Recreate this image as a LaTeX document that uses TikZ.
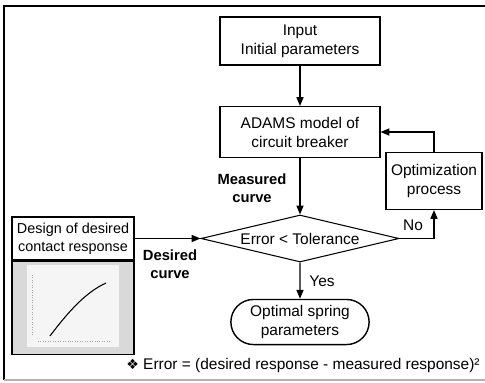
\documentclass[tikz,border=0pt]{standalone}
\usepackage{fontspec}
\setmainfont{Liberation Sans}
\newfontfamily\symfont{DejaVu Sans}
\usetikzlibrary{shapes,arrows.meta,positioning,calc}

\begin{document}
\begin{tikzpicture}[x=0.02cm, y=-0.02cm, font=\fontsize{8.8}{10.8}\selectfont,
  box/.style={draw, line width=0.6pt, fill=white, align=center, inner sep=1pt},
  flow/.style={-{Triangle[length=5pt,width=4pt]}, line width=0.7pt},
  tag/.style={font=\fontsize{8.4}{10.4}\selectfont\bfseries, align=center}]
  \useasboundingbox (0,0) rectangle (485,383);
  \draw[line width=0.7pt] (485,6) -- (4,6) -- (4,380);
  \draw[line width=0.6pt, gray!60] (4,380) -- (485,380);

  \node[box, minimum width=3.2cm, minimum height=0.96cm] (input) at (300,41) {Input\\Initial parameters};
  \node[box, minimum width=3.2cm, minimum height=1.02cm] (adams) at (300,132) {ADAMS model of\\circuit breaker};
  \node[box, minimum width=1.92cm, minimum height=1.14cm] (optim) at (434,181) {Optimization\\process};
  \node[draw, diamond, aspect=4.2, minimum width=3.96cm, minimum height=0.94cm, inner sep=0pt, fill=white, line width=0.6pt] (check) at (300,238.5) {Error < Tolerance};
  \node[draw, rounded rectangle, minimum width=3cm, minimum height=0.82cm, line width=0.8pt, align=center] (optimal) at (300,322) {Optimal spring\\parameters};
  \node[box, minimum width=2.44cm, minimum height=0.86cm, font=\fontsize{8.2}{10}\selectfont] (design) at (73,238.5) {Design of desired\\contact response};
  \node[draw, line width=0.8pt, fill=gray!30, minimum width=2.44cm, minimum height=1.86cm, anchor=north, inner sep=0pt] (plot) at (design.south) {};
  \fill[gray!8] (27,265) rectangle (119,347);
  \draw[densely dotted, gray!70] (38,341) -- (110,341);
  \draw[densely dotted, gray!70] (32,275) -- (32,336);
  \draw[line width=0.6pt] (50,336) .. controls (68,312) and (86,292) .. (106,283);

  \node[tag] (meas) at (252,188) {Measured\\curve};
  \node[tag] (des) at (170,264) {Desired\\curve};
  \node (no) at (413,225) {No};
  \node (yes) at (322,281) {Yes};
  \node (note) at (303,365) {{\symfont\fontsize{8}{8}\selectfont ❖} Error = (desired response - measured response)²};

  \draw[flow] (input) -- (adams);
  \draw[flow] (adams) -- (check);
  \draw[flow] (optim.north) |- (adams.east);
  \draw[flow] (check.east) -| (optim.south);
  \draw[flow] (design) -- (check);
  \draw[flow] (check) -- (optimal);
\end{tikzpicture}
\end{document}
